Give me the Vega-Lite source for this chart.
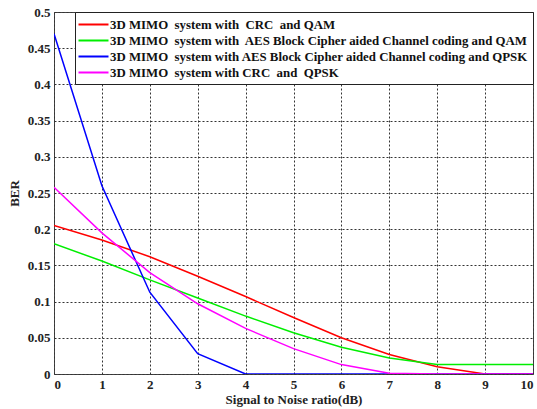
{
  "$schema": "https://vega.github.io/schema/vega-lite/v6.json",
  "width": 479,
  "height": 362,
  "autosize": {"type": "none"},
  "padding": {"left": 54, "top": 12, "right": 4, "bottom": 35},
  "background": "white",
  "config": {
    "font": "Liberation Serif",
    "view": {"stroke": "#444", "strokeWidth": 1}
  },
  "data": {
    "values": [
      {"snr": 0, "ber": 0.205, "s": "A"},
      {"snr": 1, "ber": 0.185, "s": "A"},
      {"snr": 2, "ber": 0.162, "s": "A"},
      {"snr": 3, "ber": 0.135, "s": "A"},
      {"snr": 4, "ber": 0.107, "s": "A"},
      {"snr": 5, "ber": 0.078, "s": "A"},
      {"snr": 6, "ber": 0.05, "s": "A"},
      {"snr": 7, "ber": 0.027, "s": "A"},
      {"snr": 8, "ber": 0.01, "s": "A"},
      {"snr": 9, "ber": 0.0, "s": "A"},
      {"snr": 10, "ber": 0.0, "s": "A"},
      {"snr": 0, "ber": 0.18, "s": "B"},
      {"snr": 1, "ber": 0.156, "s": "B"},
      {"snr": 2, "ber": 0.13, "s": "B"},
      {"snr": 3, "ber": 0.105, "s": "B"},
      {"snr": 4, "ber": 0.08, "s": "B"},
      {"snr": 5, "ber": 0.057, "s": "B"},
      {"snr": 6, "ber": 0.037, "s": "B"},
      {"snr": 7, "ber": 0.022, "s": "B"},
      {"snr": 8, "ber": 0.013, "s": "B"},
      {"snr": 9, "ber": 0.013, "s": "B"},
      {"snr": 10, "ber": 0.013, "s": "B"},
      {"snr": 0, "ber": 0.47, "s": "C"},
      {"snr": 1, "ber": 0.26, "s": "C"},
      {"snr": 2, "ber": 0.113, "s": "C"},
      {"snr": 3, "ber": 0.028, "s": "C"},
      {"snr": 4, "ber": 0.0, "s": "C"},
      {"snr": 5, "ber": 0.0, "s": "C"},
      {"snr": 6, "ber": 0.0, "s": "C"},
      {"snr": 7, "ber": 0.0, "s": "C"},
      {"snr": 8, "ber": 0.0, "s": "C"},
      {"snr": 9, "ber": 0.0, "s": "C"},
      {"snr": 10, "ber": 0.0, "s": "C"},
      {"snr": 0, "ber": 0.258, "s": "D"},
      {"snr": 1, "ber": 0.195, "s": "D"},
      {"snr": 2, "ber": 0.14, "s": "D"},
      {"snr": 3, "ber": 0.097, "s": "D"},
      {"snr": 4, "ber": 0.063, "s": "D"},
      {"snr": 5, "ber": 0.035, "s": "D"},
      {"snr": 6, "ber": 0.013, "s": "D"},
      {"snr": 7, "ber": 0.001, "s": "D"},
      {"snr": 8, "ber": 0.0, "s": "D"},
      {"snr": 9, "ber": 0.0, "s": "D"},
      {"snr": 10, "ber": 0.0, "s": "D"}
    ]
  },
  "mark": {"type": "line", "strokeWidth": 1.5, "clip": true},
  "encoding": {
    "x": {
      "field": "snr", "type": "quantitative",
      "scale": {"domain": [0, 10], "nice": false},
      "axis": {
        "title": "Signal to Noise ratio(dB)",
        "values": [0,1,2,3,4,5,6,7,8,9,10],
        "format": "d",
        "labelFont": "Liberation Serif", "labelFontWeight": "bold", "labelFontSize": 13, "labelColor": "#222",
        "titleFont": "Liberation Serif", "titleFontWeight": "bold", "titleFontSize": 13, "titleColor": "#222",
        "titlePadding": 2,
        "grid": true, "gridColor": "#333", "gridDash": [2, 2], "gridWidth": 1,
        "tickSize": 0, "domain": false, "labelPadding": 4
      }
    },
    "y": {
      "field": "ber", "type": "quantitative",
      "scale": {"domain": [0, 0.5], "nice": false},
      "axis": {
        "title": "BER",
        "values": [0, 0.05, 0.1, 0.15, 0.2, 0.25, 0.3, 0.35, 0.4, 0.45, 0.5],
        "labelExpr": "datum.value == 0 ? '0' : format(datum.value, '.2~f')",
        "labelFont": "Liberation Serif", "labelFontWeight": "bold", "labelFontSize": 13, "labelColor": "#222",
        "titleFont": "Liberation Serif", "titleFontWeight": "bold", "titleFontSize": 13, "titleColor": "#222",
        "titlePadding": 6,
        "grid": true, "gridColor": "#333", "gridDash": [2, 2], "gridWidth": 1,
        "tickSize": 0, "domain": false, "labelPadding": 4
      }
    },
    "color": {
      "field": "s", "type": "nominal",
      "scale": {
        "domain": ["A", "B", "C", "D"],
        "range": ["#ff0000", "#00ee00", "#0000ff", "#ff00ff"]
      },
      "legend": {
        "title": null,
        "orient": "top-right",
        "offset": 0,
        "fillColor": "white",
        "strokeColor": "#222",
        "padding": 4,
        "symbolType": "M-2,0H2",
        "symbolSize": 225,
        "symbolStrokeWidth": 2,
        "symbolOffset": 6,
        "labelFont": "Liberation Serif",
        "labelFontWeight": "bold",
        "labelFontSize": 12.85,
        "labelColor": "#111",
        "labelLimit": 500,
        "labelOffset": 8,
        "rowPadding": -1,
        "labelExpr": "datum.value == 'A' ? '3D MIMO\u00a0 system with\u00a0 CRC\u00a0 and QAM' : datum.value == 'B' ? '3D MIMO\u00a0 system with\u00a0 AES Block Cipher aided Channel coding and QAM' : datum.value == 'C' ? '3D MIMO\u00a0 system with AES Block Cipher aided Channel coding and QPSK' : '\u00a03D MIMO\u00a0 system with CRC\u00a0 and\u00a0 QPSK'"
      }
    }
  }
}
